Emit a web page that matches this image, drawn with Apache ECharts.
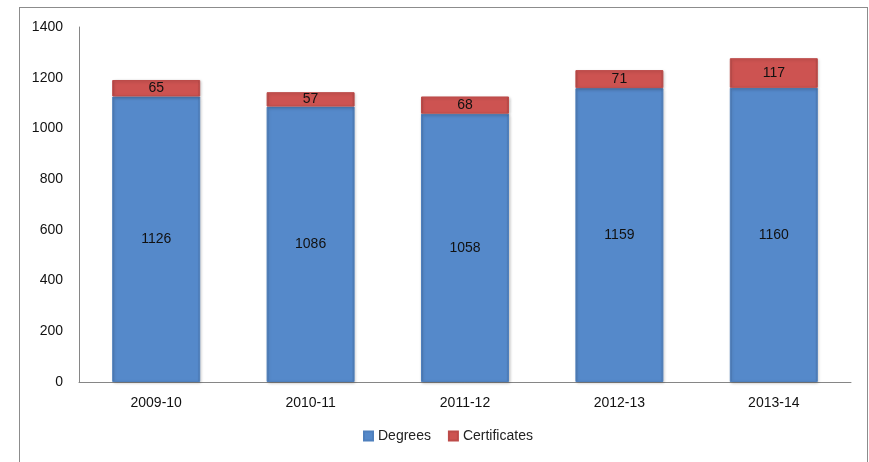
<!DOCTYPE html>
<html>
<head>
	<meta charset="utf-8" />
	<title>Degrees and Certificates</title>
	<script src="https://cdn.jsdelivr.net/npm/echarts@6.0.0/dist/echarts.min.js"></script>
	<style>
		html, body { margin: 0; padding: 0; background: #fff; }
		#frame { position: absolute; left: 19px; top: 7px; width: 847px; height: 470px; border: 1px solid #8c8c8c; }
		#main { position: absolute; left: 0; top: 0; width: 869px; height: 462px; }
	</style>
</head>
<body>
	<div id="frame"></div>
	<div id="main"></div>

	<script type="text/javascript">
		// 数据
		var years = ['2009-10', '2010-11', '2011-12', '2012-13', '2013-14'];
		var degrees = [1126, 1086, 1058, 1159, 1160];
		var certificates = [65, 57, 68, 71, 117];
		var yTicks = [0, 200, 400, 600, 800, 1000, 1200, 1400];

		var font = 'Liberation Sans';

		function edgeGrad(mid, edge) {
			return new echarts.graphic.LinearGradient(0, 0, 1, 0, [
				{ offset: 0, color: edge },
				{ offset: 0.03, color: mid },
				{ offset: 0.97, color: mid },
				{ offset: 1, color: edge }
			]);
		}

		var myChart = echarts.init(document.getElementById('main'), null, { renderer: 'canvas' });

		var option = {
			animation: false,
			backgroundColor: 'transparent',
			grid: { left: 79, right: 18, top: 27, bottom: 80 },
			legend: {
				bottom: 14,
				left: 358,
				itemWidth: 9,
				itemHeight: 9,
				itemGap: 17,
				icon: 'rect',
				textStyle: { fontFamily: font, fontSize: 14, color: '#222' },
				data: ['Degrees', 'Certificates']
			},
			xAxis: {
				type: 'category',
				data: years,
				axisLine: { lineStyle: { color: '#868686' } },
				axisTick: { show: false },
				axisLabel: { fontFamily: font, fontSize: 14, color: '#111', margin: 14 }
			},
			yAxis: {
				type: 'value',
				min: yTicks[0],
				max: yTicks[yTicks.length - 1],
				interval: 200,
				axisLine: { show: true, lineStyle: { color: '#868686' } },
				axisTick: { show: false },
				splitLine: { show: false },
				axisLabel: {
					fontFamily: font, fontSize: 14, color: '#111', margin: 16,
					formatter: function (v) { return String(v); }
				}
			},
			series: [
				{
					name: 'Degrees',
					type: 'bar',
					stack: 'total',
					barCategoryGap: '43%',
					data: degrees,
					itemStyle: {
						color: edgeGrad('#5589CA', '#4872a8'),
						borderColor: '#4f80bd',
						borderWidth: 1,
						shadowColor: 'rgba(0,0,0,0.2)',
						shadowBlur: 3,
						shadowOffsetX: 1,
						shadowOffsetY: 1
					},
					label: {
						show: true,
						position: 'inside',
						fontFamily: font,
						fontSize: 14,
						color: '#111'
					}
				},
				{
					name: 'Certificates',
					type: 'bar',
					stack: 'total',
					data: certificates,
					itemStyle: {
						color: edgeGrad('#CD5351', '#a84442'),
						borderColor: '#bd4b49',
						borderWidth: 1,
						shadowColor: 'rgba(0,0,0,0.2)',
						shadowBlur: 3,
						shadowOffsetX: 1,
						shadowOffsetY: 1
					},
					label: {
						show: true,
						position: 'inside',
						fontFamily: font,
						fontSize: 14,
						color: '#111'
					}
				}
			]
		};

		myChart.setOption(option);
		window.addEventListener('resize', myChart.resize);
	</script>
</body>
</html>
